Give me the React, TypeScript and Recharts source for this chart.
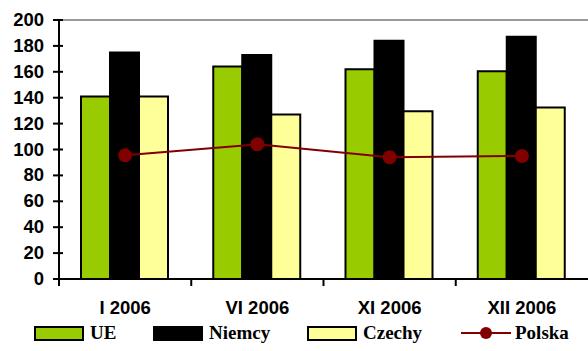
import React from "react";
import {
  ComposedChart,
  Bar,
  Line,
  XAxis,
  YAxis,
  ReferenceLine,
  Legend,
} from "recharts";

const categories = ["I 2006", "VI 2006", "XI 2006", "XII 2006"];
const ue = [141, 164, 162, 160.5];
const niemcy = [175, 173, 184, 187];
const czechy = [141, 127, 129.5, 132.5];
const polska = [95.5, 104, 94, 95];
const yTicks = [0, 20, 40, 60, 80, 100, 120, 140, 160, 180, 200];

const data = categories.map((name, i) => ({
  name,
  UE: ue[i],
  Niemcy: niemcy[i],
  Czechy: czechy[i],
  Polska: polska[i],
}));

const W = 588;
const H = 351;
const Y_AXIS_W = 59;
const BAND = (W - Y_AXIS_W) / categories.length;

const axisFont = "'Liberation Sans', Arial, sans-serif";
const legendFont = "'Liberation Serif', 'DejaVu Serif', serif";

// category label in the middle, tick mark on the left boundary of the band
function XTick(props: any) {
  const { x, y, payload } = props;
  const axisY = y - 8;
  return (
    <g>
      <line x1={x - BAND / 2} x2={x - BAND / 2} y1={axisY} y2={axisY + 7} stroke="#000" strokeWidth={2} />
      <text
        x={x}
        y={y}
        dy={27}
        textAnchor="middle"
        fontFamily={axisFont}
        fontWeight="bold"
        fontSize={18.5}
        fill="#000"
      >
        {payload.value}
      </text>
    </g>
  );
}

function YTick(props: any) {
  const { x, y, payload } = props;
  const axisX = x + 8;
  return (
    <g>
      <line x1={axisX - 6} x2={axisX + 4} y1={y} y2={y} stroke="#000" strokeWidth={2} />
      <text
        x={axisX - 15}
        y={y}
        dy={6}
        textAnchor="end"
        fontFamily={axisFont}
        fontWeight="bold"
        fontSize={18.5}
        fill="#000"
      >
        {payload.value}
      </text>
    </g>
  );
}

const legendItems = [
  { label: "UE", color: "#99CC00", left: 34, kind: "box" },
  { label: "Niemcy", color: "#000000", left: 153, kind: "box" },
  { label: "Czechy", color: "#FFFF99", left: 307, kind: "box" },
  { label: "Polska", color: "#800000", left: 461, kind: "line" },
];

function LegendContent() {
  return (
    <div style={{ position: "relative", width: W, height: 24 }}>
      {legendItems.map((it) => (
        <div
          key={it.label}
          style={{
            position: "absolute",
            left: it.left,
            top: 0,
            display: "flex",
            alignItems: "center",
          }}
        >
          {it.kind === "box" ? (
            <span
              style={{
                display: "inline-block",
                width: 46,
                height: 11,
                background: it.color,
                border: "2px solid #000",
                marginRight: 6,
              }}
            />
          ) : (
            <svg width={50} height={16} style={{ marginRight: 4 }}>
              <line x1={0} x2={50} y1={8} y2={8} stroke={it.color} strokeWidth={2} />
              <circle cx={25} cy={8} r={6} fill={it.color} />
            </svg>
          )}
          <span
            style={{
              fontFamily: legendFont,
              fontWeight: 700,
              fontSize: 19,
              color: "#000",
              lineHeight: "20px",
            }}
          >
            {it.label}
          </span>
        </div>
      ))}
    </div>
  );
}

export default function App() {
  return (
    <div style={{ position: "absolute", left: 0, top: 0, width: W, height: H, background: "#fff" }}>
      <ComposedChart
        width={W}
        height={H}
        data={data}
        margin={{ top: 20, right: 0, left: 0, bottom: 0 }}
        barGap={0}
        barCategoryGap={22}
      >
        <ReferenceLine y={200} stroke="#999" strokeWidth={2} />
        <XAxis
          dataKey="name"
          axisLine={{ stroke: "#000", strokeWidth: 2 }}
          tickLine={false}
          tick={<XTick />}
          height={48}
          interval={0}
        />
        <YAxis
          domain={[0, 200]}
          ticks={yTicks}
          width={Y_AXIS_W}
          axisLine={{ stroke: "#000", strokeWidth: 2 }}
          tickLine={false}
          tick={<YTick />}
          interval={0}
        />
        <Bar dataKey="UE" fill="#99CC00" stroke="#000" strokeWidth={2} isAnimationActive={false} />
        <Bar dataKey="Niemcy" fill="#000000" stroke="#000" strokeWidth={2} isAnimationActive={false} />
        <Bar dataKey="Czechy" fill="#FFFF99" stroke="#000" strokeWidth={2} isAnimationActive={false} />
        <Line
          dataKey="Polska"
          stroke="#800000"
          strokeWidth={2}
          dot={{ r: 6, fill: "#800000", stroke: "#800000" }}
          isAnimationActive={false}
        />
        <Legend verticalAlign="bottom" content={<LegendContent />} wrapperStyle={{ left: 0, bottom: 4 }} />
      </ComposedChart>
    </div>
  );
}
